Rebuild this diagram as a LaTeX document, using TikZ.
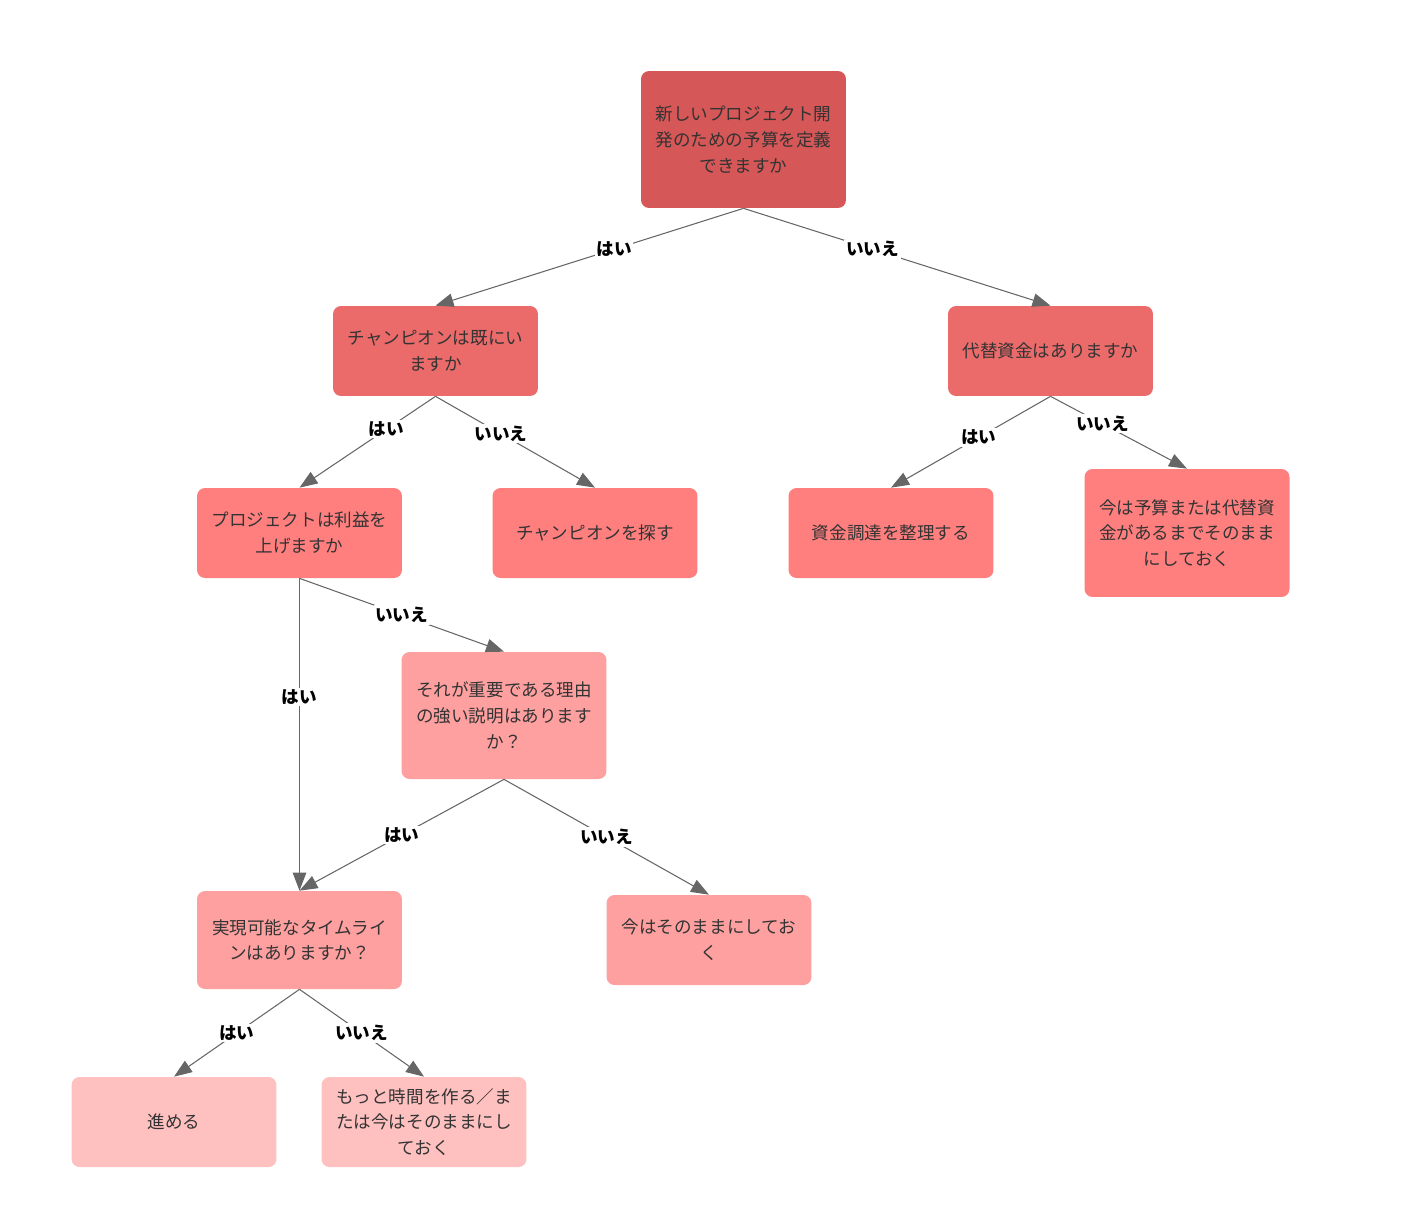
\documentclass[tikz,border=0pt]{standalone}
\usepackage{fontspec}
\setmainfont{Noto Sans CJK JP}
\usepackage{tikz}
\usetikzlibrary{arrows.meta}

\definecolor{lvla}{HTML}{D65757}
\definecolor{lvlb}{HTML}{EB6B6B}
\definecolor{lvlc}{HTML}{FF7F7F}
\definecolor{lvld}{HTML}{FFA0A0}
\definecolor{lvle}{HTML}{FFC0C0}
\definecolor{txt}{HTML}{333333}
\definecolor{edgegray}{HTML}{666666}

\begin{document}
\begin{tikzpicture}[x=0.02cm, y=-0.02cm,
    box/.style={rounded corners=0.16cm, minimum width=4.1cm, inner sep=0pt,
        align=center, text=txt,
        font=\fontsize{10pt}{14.7pt}\selectfont},
    link/.style={draw=edgegray, line width=0.6pt,
        -{Triangle[length=0.36cm, width=0.27cm]}},
    ans/.style={fill=white, inner sep=1pt, text=black,
        font=\fontsize{10pt}{12pt}\selectfont\bfseries}]
    % Fix the page size to the reference
    \useasboundingbox (0,0) rectangle (1402,1214);

    % Question at the top
    \node[box, fill=lvla, minimum height=2.74cm] (budget) at (743.5,139.5)
        {新しいプロジェクト開\\発のための予算を定義\\できますか};

    % Second row
    \node[box, fill=lvlb, minimum height=1.8cm] (champion) at (435.5,351)
        {チャンピオンは既にい\\ますか};
    \node[box, fill=lvlb, minimum height=1.8cm] (altfund) at (1050.5,351)
        {代替資金はありますか};

    % Third row
    \node[box, fill=lvlc, minimum height=1.8cm] (profit) at (299.5,533)
        {プロジェクトは利益を\\上げますか};
    \node[box, fill=lvlc, minimum height=1.8cm] (findchamp) at (595,533)
        {チャンピオンを探す};
    \node[box, fill=lvlc, minimum height=1.8cm] (raise) at (891,533)
        {資金調達を整理する};
    \node[box, fill=lvlc, minimum height=2.56cm] (waitfund) at (1187,533)
        {今は予算または代替資\\金があるまでそのまま\\にしておく};

    % Fourth row
    \node[box, fill=lvld, minimum height=2.54cm] (reason) at (504,715.5)
        {それが重要である理由\\の強い説明はあります\\か？};
    \node[box, fill=lvld, minimum height=1.96cm] (timeline) at (299.5,940)
        {実現可能なタイムライ\\ンはありますか？};
    \node[box, fill=lvld, minimum height=1.8cm] (leave) at (709,940)
        {今はそのままにしてお\\く};

    % Bottom row
    \node[box, fill=lvle, minimum height=1.8cm] (go) at (174,1122)
        {進める};
    \node[box, fill=lvle, minimum height=1.8cm] (moretime) at (424,1122)
        {もっと時間を作る／ま\\たは今はそのままにし\\ておく};

    % Connectors with their answers
    \draw[link] (budget.south) -- node[ans, pos=0.42] {はい} (champion.north);
    \draw[link] (budget.south) -- node[ans, pos=0.42] {いいえ} (altfund.north);
    \draw[link] (champion.south) -- node[ans, pos=0.36] {はい} (profit.north);
    \draw[link] (champion.south) -- node[ans, pos=0.41] {いいえ} (findchamp.north);
    \draw[link] (altfund.south) -- node[ans, pos=0.45] {はい} (raise.north);
    \draw[link] (altfund.south) -- node[ans, pos=0.38] {いいえ} (waitfund.north);
    \draw[link] (profit.south) -- node[ans, pos=0.38] {はい} (timeline.north);
    \draw[link] (profit.south) -- node[ans, pos=0.5] {いいえ} (reason.north);
    \draw[link] (reason.south) -- node[ans, pos=0.5] {はい} (timeline.north);
    \draw[link] (reason.south) -- node[ans, pos=0.5] {いいえ} (leave.north);
    \draw[link] (timeline.south) -- node[ans, pos=0.5] {はい} (go.north);
    \draw[link] (timeline.south) -- node[ans, pos=0.5] {いいえ} (moretime.north);
\end{tikzpicture}
\end{document}
